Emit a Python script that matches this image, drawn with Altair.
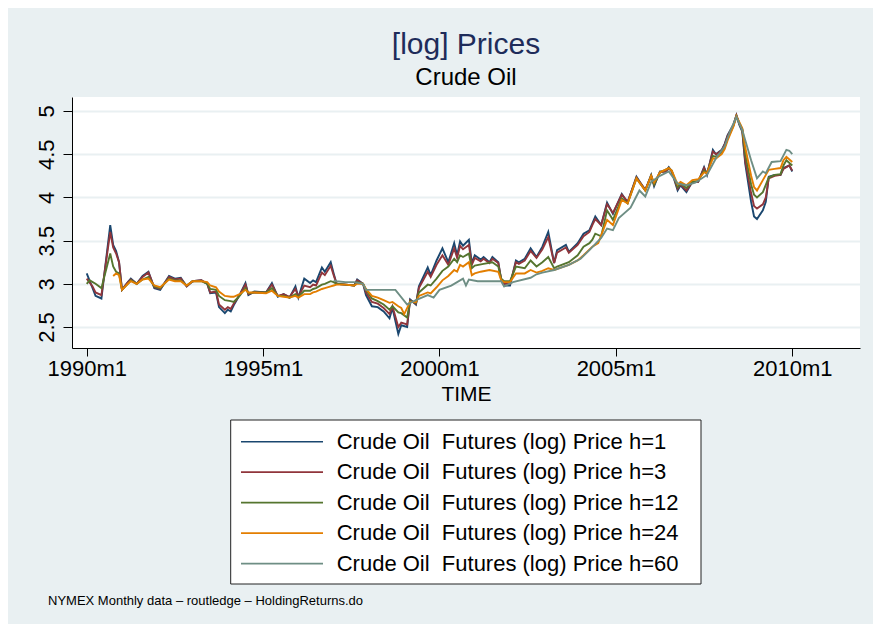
import altair as alt
import pandas as pd

SERIES = [
    "Crude Oil\u00a0 Futures (log) Price h=1",
    "Crude Oil\u00a0 Futures (log) Price h=3",
    "Crude Oil\u00a0 Futures (log) Price h=12",
    "Crude Oil\u00a0 Futures (log) Price h=24",
    "Crude Oil\u00a0 Futures (log) Price h=60",
]
COLORS = ["#1a476f", "#90353b", "#55752f", "#e37e00", "#6e8e84"]

X_TICKS = [1990, 1995, 2000, 2005, 2010]
Y_TICKS = [2.5, 3, 3.5, 4, 4.5, 5]

# months since 1990m1
MONTHS_H1 = [0, 2, 3, 5, 8, 9, 10, 11, 12, 14, 15, 17, 19, 21, 23, 25, 28, 30, 32, 34,
             36, 39, 41, 42, 44, 45, 47, 48, 49, 50, 52, 54, 55, 57, 61, 63, 65, 67, 69, 71,
             72, 74, 76, 77, 78, 80, 81, 83, 84, 85, 88, 91, 92, 94, 95, 97, 99, 101, 103, 104,
             106, 107, 109, 110, 112, 113, 116, 117, 119, 121, 123, 125, 126, 127, 128, 130, 131, 132, 134, 135,
             137, 138, 140, 141, 142, 144, 146, 147, 149, 151, 153, 155, 157, 159, 160, 163, 164, 167, 169, 171,
             172, 173, 175, 177, 179, 182, 184, 187, 190, 192, 193, 195, 197, 198, 199, 201, 202, 204, 206, 208,
             210, 211, 213, 214, 216, 217, 218, 220, 221, 222, 223, 224, 226, 227, 228, 230, 231, 232, 234, 236,
             237, 239, 240]
PRICE_H1 = [3.12, 2.95, 2.86, 2.83, 3.68, 3.45, 3.38, 3.25, 2.93, 3.02, 3.06, 3.00, 3.09, 3.14, 2.95, 2.93, 3.09, 3.06, 3.07, 2.97,
            3.03, 3.04, 3.00, 2.89, 2.90, 2.73, 2.66, 2.70, 2.68, 2.75, 2.87, 3.01, 2.87, 2.91, 2.90, 3.01, 2.85, 2.88, 2.84, 2.97,
            2.84, 3.06, 3.01, 3.04, 3.02, 3.19, 3.14, 3.25, 3.12, 3.00, 2.99, 2.98, 3.05, 3.00, 2.87, 2.74, 2.73, 2.68, 2.60, 2.72,
            2.42, 2.52, 2.50, 2.82, 2.76, 2.97, 3.19, 3.10, 3.27, 3.41, 3.25, 3.47, 3.33, 3.49, 3.44, 3.51, 3.24, 3.33, 3.28, 3.31,
            3.25, 3.31, 3.25, 3.04, 2.98, 2.98, 3.27, 3.25, 3.29, 3.41, 3.31, 3.43, 3.60, 3.24, 3.39, 3.45, 3.37, 3.47, 3.58, 3.62,
            3.70, 3.78, 3.68, 3.94, 3.81, 4.04, 3.94, 4.24, 4.08, 4.26, 4.13, 4.30, 4.30, 4.35, 4.30, 4.08, 4.14, 4.06, 4.18, 4.18,
            4.35, 4.26, 4.55, 4.50, 4.55, 4.62, 4.72, 4.84, 4.95, 4.84, 4.76, 4.39, 3.95, 3.78, 3.75, 3.85, 3.95, 4.24, 4.26, 4.26,
            4.34, 4.37, 4.30]

MONTHS_H3 = list(MONTHS_H1)
PRICE_H3 = [3.06, 2.97, 2.90, 2.87, 3.60, 3.42, 3.35, 3.25, 2.93, 3.02, 3.05, 3.00, 3.08, 3.13, 2.96, 2.94, 3.08, 3.05, 3.06, 2.97,
            3.03, 3.04, 3.00, 2.90, 2.91, 2.76, 2.70, 2.73, 2.71, 2.77, 2.87, 2.99, 2.88, 2.90, 2.90, 2.99, 2.86, 2.88, 2.85, 2.94,
            2.85, 2.98, 2.96, 2.99, 2.98, 3.13, 3.10, 3.21, 3.10, 3.00, 2.99, 2.98, 3.04, 3.00, 2.90, 2.79, 2.77, 2.72, 2.65, 2.74,
            2.50, 2.55, 2.53, 2.81, 2.77, 2.95, 3.14, 3.08, 3.22, 3.33, 3.22, 3.41, 3.30, 3.44, 3.40, 3.45, 3.22, 3.30, 3.26, 3.29,
            3.24, 3.29, 3.24, 3.05, 3.00, 3.00, 3.25, 3.23, 3.27, 3.38, 3.30, 3.40, 3.54, 3.24, 3.36, 3.42, 3.36, 3.45, 3.55, 3.60,
            3.68, 3.75, 3.68, 3.92, 3.82, 4.03, 3.95, 4.23, 4.09, 4.25, 4.15, 4.29, 4.30, 4.34, 4.30, 4.10, 4.15, 4.08, 4.18, 4.18,
            4.34, 4.27, 4.53, 4.50, 4.54, 4.61, 4.71, 4.84, 4.95, 4.85, 4.78, 4.42, 4.05, 3.90, 3.87, 3.92, 4.00, 4.22, 4.25, 4.26,
            4.33, 4.37, 4.31]

MONTHS_H12 = [0, 1, 3, 5, 8, 9, 10, 11, 12, 14, 15, 17, 19, 21, 23, 25, 28, 30, 32, 34,
              36, 39, 41, 42, 44, 45, 47, 49, 50, 52, 54, 55, 57, 61, 63, 65, 67, 69, 71, 72,
              74, 76, 77, 78, 80, 81, 83, 84, 85, 88, 91, 92, 94, 95, 97, 99, 101, 103, 104, 106,
              107, 109, 110, 112, 113, 116, 117, 119, 121, 123, 125, 126, 127, 128, 130, 131, 132, 135, 138, 140,
              141, 142, 144, 146, 149, 151, 153, 155, 157, 159, 160, 164, 167, 169, 171, 172, 173, 175, 177, 179,
              182, 184, 187, 190, 192, 193, 195, 198, 199, 201, 202, 204, 206, 208, 210, 211, 213, 214, 216, 217,
              218, 220, 221, 222, 223, 224, 226, 227, 228, 230, 232, 234, 236, 237, 238, 240]
PRICE_H12 = [3.00, 3.04, 3.00, 2.95, 3.35, 3.20, 3.14, 3.12, 2.93, 3.00, 3.04, 3.00, 3.05, 3.08, 2.97, 2.95, 3.06, 3.04, 3.04, 2.98,
             3.03, 3.03, 3.00, 2.94, 2.93, 2.86, 2.81, 2.80, 2.79, 2.86, 2.95, 2.89, 2.90, 2.90, 2.95, 2.86, 2.86, 2.84, 2.88, 2.85,
             2.92, 2.92, 2.94, 2.95, 2.99, 3.00, 3.03, 3.02, 3.00, 2.99, 2.98, 3.02, 3.00, 2.93, 2.83, 2.80, 2.76, 2.70, 2.74, 2.67,
             2.66, 2.61, 2.80, 2.78, 2.90, 2.99, 2.98, 3.06, 3.15, 3.20, 3.29, 3.25, 3.33, 3.31, 3.35, 3.18, 3.21, 3.23, 3.25, 3.20,
             3.06, 3.03, 3.03, 3.20, 3.18, 3.27, 3.20, 3.25, 3.31, 3.18, 3.20, 3.25, 3.33, 3.43, 3.47, 3.51, 3.58, 3.55, 3.85, 3.74,
             3.99, 3.93, 4.22, 4.08, 4.25, 4.15, 4.29, 4.34, 4.31, 4.12, 4.16, 4.11, 4.18, 4.19, 4.31, 4.28, 4.48, 4.47, 4.52, 4.58,
             4.68, 4.83, 4.94, 4.86, 4.79, 4.50, 4.15, 4.03, 4.00, 4.06, 4.23, 4.26, 4.27, 4.37, 4.43, 4.37]

MONTHS_H24 = [9, 10, 11, 12, 14, 15, 17, 19, 21, 23, 25, 28, 30, 32, 34, 36, 39, 41, 42, 44,
              45, 47, 49, 50, 52, 54, 55, 57, 61, 63, 65, 67, 69, 71, 72, 74, 76, 77, 78, 80,
              81, 83, 84, 85, 88, 91, 92, 94, 95, 97, 99, 101, 103, 104, 106, 107, 108, 110, 112, 113,
              116, 117, 119, 121, 123, 125, 126, 127, 128, 130, 131, 132, 134, 137, 140, 141, 142, 144, 146, 149,
              151, 153, 155, 157, 159, 164, 167, 169, 172, 174, 177, 179, 182, 184, 187, 190, 192, 193, 195, 198,
              199, 201, 202, 204, 206, 208, 210, 211, 213, 214, 216, 217, 218, 220, 221, 222, 223, 224, 226, 227,
              228, 230, 232, 234, 236, 237, 238, 240]
PRICE_H24 = [3.09, 3.12, 3.10, 2.93, 3.00, 3.03, 3.00, 3.05, 3.06, 2.98, 2.96, 3.05, 3.03, 3.03, 2.98, 3.03, 3.03, 3.02, 2.98, 2.96,
             2.91, 2.86, 2.85, 2.85, 2.88, 2.93, 2.90, 2.90, 2.89, 2.92, 2.86, 2.85, 2.84, 2.86, 2.84, 2.88, 2.88, 2.90, 2.91, 2.94,
             2.95, 2.97, 2.98, 2.99, 2.99, 2.98, 3.00, 3.00, 2.94, 2.86, 2.84, 2.81, 2.78, 2.79, 2.74, 2.72, 2.65, 2.79, 2.79, 2.86,
             2.90, 2.89, 2.96, 3.04, 3.09, 3.16, 3.14, 3.22, 3.20, 3.25, 3.10, 3.12, 3.14, 3.16, 3.14, 3.04, 3.02, 3.02, 3.12, 3.12,
             3.16, 3.13, 3.15, 3.18, 3.16, 3.22, 3.27, 3.33, 3.43, 3.47, 3.74, 3.68, 3.97, 3.93, 4.22, 4.08, 4.25, 4.17, 4.29, 4.34,
             4.31, 4.15, 4.18, 4.14, 4.20, 4.21, 4.29, 4.28, 4.45, 4.45, 4.50, 4.56, 4.66, 4.82, 4.94, 4.87, 4.80, 4.58, 4.25, 4.12,
             4.08, 4.20, 4.32, 4.33, 4.34, 4.43, 4.47, 4.41]

MONTHS_H60 = [84, 85, 88, 91, 94, 95, 105, 109, 112, 116, 118, 120, 124, 128, 129, 130, 133, 141, 142, 145,
              151, 153, 155, 159, 164, 168, 171, 175, 177, 179, 181, 185, 188, 190, 192, 195, 198, 201, 204, 207,
              211, 214, 217, 219, 221, 223, 226, 228, 230, 231, 233, 236, 238, 239, 240]
PRICE_H60 = [3.04, 3.03, 3.02, 3.02, 3.00, 2.93, 2.93, 2.76, 2.81, 2.87, 2.84, 2.93, 2.98, 3.06, 2.98, 3.05, 3.03, 3.03, 2.97, 3.02,
             3.07, 3.11, 3.13, 3.16, 3.22, 3.29, 3.39, 3.53, 3.64, 3.62, 3.76, 3.88, 4.08, 4.01, 4.18, 4.25, 4.30, 4.16, 4.14, 4.17,
             4.26, 4.45, 4.59, 4.78, 4.93, 4.78, 4.43, 4.22, 4.30, 4.28, 4.41, 4.42, 4.55, 4.54, 4.50]

NOTE = "NYMEX Monthly data \u2013 routledge \u2013 HoldingReturns.do"

series_data = [
    (SERIES[0], MONTHS_H1, PRICE_H1),
    (SERIES[1], MONTHS_H3, PRICE_H3),
    (SERIES[2], MONTHS_H12, PRICE_H12),
    (SERIES[3], MONTHS_H24, PRICE_H24),
    (SERIES[4], MONTHS_H60, PRICE_H60),
]
rows = []
for name, months, prices in series_data:
    assert len(months) == len(prices), (name, len(months), len(prices))
    for m, p in zip(months, prices):
        rows.append({"date": 1990 + m / 12.0, "value": p, "series": name})
df = pd.DataFrame(rows)

FONT = "Liberation Sans"
BG = "#e9f0f2"

color_scale = alt.Scale(domain=SERIES, range=COLORS)

lines = alt.Chart(df).mark_line(strokeWidth=1.9).encode(
    x=alt.X("date:Q",
            scale=alt.Scale(domain=[1989.583, 2011.92], nice=False, zero=False),
            axis=alt.Axis(values=X_TICKS, labelExpr="datum.value + 'm1'", title="TIME",
                          grid=False, tickSize=8, labelPadding=2, titlePadding=4,
                          labelFontSize=22, titleFontSize=21, titleFontWeight="normal",
                          labelFlush=False, labelOverlap=False)),
    y=alt.Y("value:Q",
            scale=alt.Scale(domain=[2.257, 5.162], nice=False, zero=False),
            axis=alt.Axis(values=Y_TICKS, format="~g", title=None, grid=True, tickSize=9,
                          labelAngle=270, labelAlign="center", labelBaseline="alphabetic",
                          labelPadding=10, labelFontSize=22, labelOverlap=False)),
    color=alt.Color("series:N", scale=color_scale, legend=None),
)

leg_df = pd.DataFrame({"series": SERIES, "rank": list(range(len(SERIES)))})
leg_y = alt.Y("rank:Q", scale=alt.Scale(domain=[0, 4], range=[344.7, 466.6]), axis=None)

box = alt.Chart(pd.DataFrame({"k": [0]})).mark_rect(fill="white", stroke="#222222", strokeWidth=1).encode(
    x=alt.value(158.7), x2=alt.value(629), y=alt.value(323), y2=alt.value(487)
)
leg_lines = alt.Chart(leg_df).mark_rule(strokeWidth=1.6).encode(
    x=alt.value(169), x2=alt.value(251), y=leg_y,
    color=alt.Color("series:N", scale=color_scale, legend=None),
)
leg_text = alt.Chart(leg_df).mark_text(align="left", baseline="middle", fontSize=22, font=FONT, color="black").encode(
    x=alt.value(264.7), y=leg_y, text="series:N"
)
note = alt.Chart(pd.DataFrame({"note": [NOTE]})).mark_text(
    align="left", baseline="middle", fontSize=13, font=FONT, color="black"
).encode(x=alt.value(-24), y=alt.value(504), text="note:N")

chart = alt.layer(lines, box, leg_lines, leg_text, note).resolve_scale(y="independent").properties(
    width=788,
    height=251,
    background=BG,
    padding={"left": 64, "top": 89, "right": 13, "bottom": 276},
    autosize=alt.AutoSizeParams(type="none"),
    title=alt.TitleParams(
        text="[log] Prices", subtitle="Crude Oil", anchor="middle",
        font=FONT, fontSize=30, fontWeight="normal", color="#1e2c5a",
        subtitleFont=FONT, subtitleFontSize=24, subtitleColor="black",
        subtitlePadding=6, offset=7,
    ),
).configure_view(fill="white", strokeWidth=0).configure_axis(
    domainColor="black", tickColor="black", labelColor="black", titleColor="black",
    labelFont=FONT, titleFont=FONT, gridColor=BG, gridWidth=2, domainWidth=1, tickWidth=1,
)

chart.save("out.html", embed_options={"renderer": "svg", "actions": False})
